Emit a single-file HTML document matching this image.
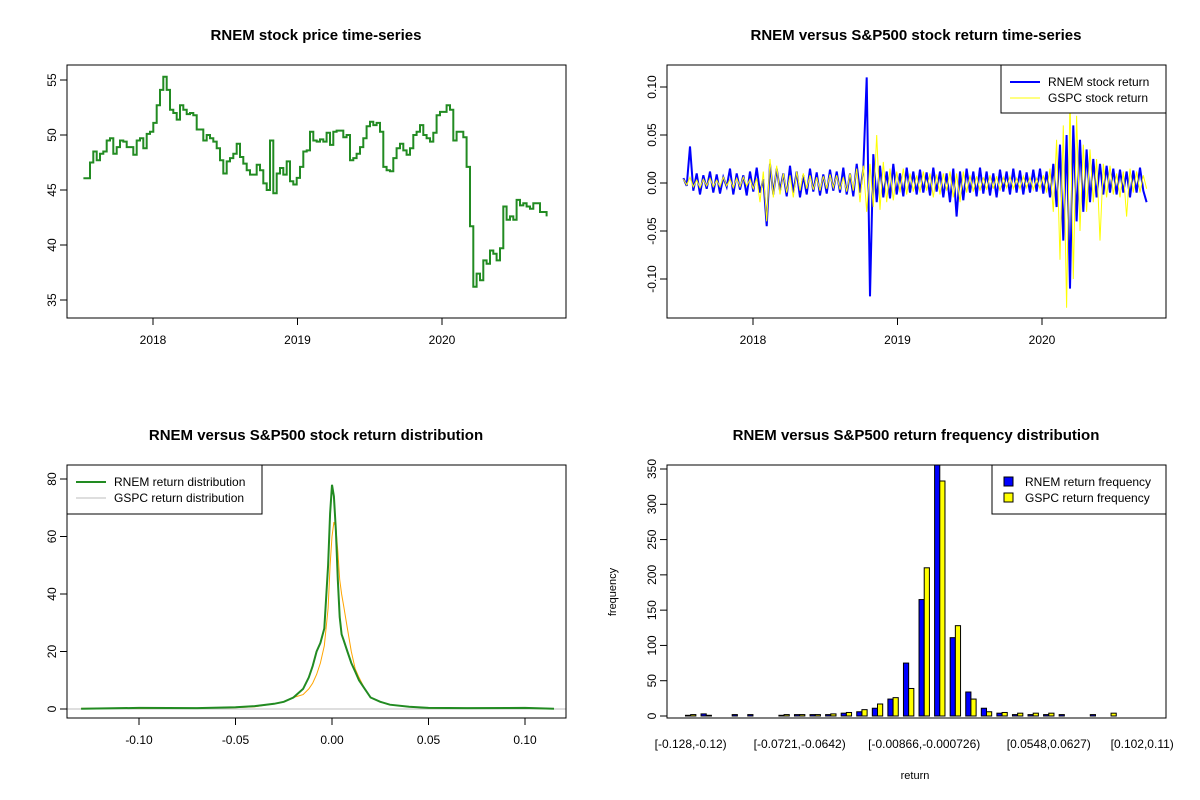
<!DOCTYPE html>
<html><head><meta charset="utf-8"><style>
html,body{margin:0;padding:0;background:#fff}
svg{display:block;font-family:"Liberation Sans",Arial,sans-serif}
</style></head><body>
<svg id="c" width="1200" height="800" viewBox="0 0 1200 800" xmlns="http://www.w3.org/2000/svg"></svg>
<script>
// ---- Panel 1 data: price series (evenly spaced trading samples) ----
const priceStart = 2017.518, priceEnd = 2020.724;
const prices = [46.06,46.06,47.5,48.5,47.7,48.3,48.5,49.5,49.7,48.3,48.9,49.5,49.4,48.9,48.9,48.2,49.5,49.7,48.8,50.1,50.3,51.1,52.7,54.1,55.3,54.1,52.3,52.0,51.4,52.7,52.3,51.9,52.0,51.8,50.5,50.5,49.5,50.0,49.7,49.4,48.8,47.7,46.5,47.6,47.9,48.3,49.2,48.0,47.4,46.8,46.4,46.4,47.3,46.8,45.6,45.0,49.5,44.7,46.5,47.0,46.4,47.6,45.8,45.5,46.1,47.1,48.5,48.6,50.3,49.5,49.4,49.6,49.4,50.2,49.1,50.3,50.4,50.4,49.8,50.0,47.7,47.9,48.3,48.9,49.7,50.8,51.2,50.9,51.1,50.3,47.1,46.8,46.7,47.9,48.8,49.2,48.6,48.2,48.8,50.0,50.3,50.9,50.0,49.7,49.4,50.2,51.8,52.1,52.1,52.7,52.3,49.5,50.3,50.3,49.8,47.1,41.7,36.2,37.4,36.8,38.6,38.3,39.5,39.2,38.6,39.7,43.5,42.3,42.6,42.3,44.1,43.6,43.8,43.5,43.3,43.8,43.8,43.0,43.0,42.6];
const priceYTicks = [35,40,45,50,55];
const yearTicks = [2018,2019,2020];
// ---- Panel 2 data: returns ----
const rnemReturns = [0.005,-0.003,0.038,-0.008,0.01,-0.012,0.008,-0.006,0.012,-0.01,0.009,-0.011,0.006,-0.004,0.015,-0.012,0.01,-0.007,0.008,-0.013,0.012,-0.009,0.016,-0.01,0.004,-0.045,0.02,-0.012,0.015,-0.008,0.01,-0.014,0.018,-0.01,0.012,-0.015,0.008,-0.012,0.015,-0.009,0.011,-0.013,0.009,-0.011,0.014,-0.008,0.012,-0.01,0.016,-0.012,0.01,-0.014,0.02,-0.01,0.015,0.11,-0.118,0.03,-0.02,0.018,-0.015,0.012,-0.016,0.02,-0.012,0.01,-0.014,0.016,-0.01,0.012,-0.012,0.014,-0.01,0.011,-0.013,0.016,-0.009,0.012,-0.015,0.01,-0.02,0.015,-0.035,0.012,-0.018,0.015,-0.01,0.012,-0.014,0.016,-0.011,0.012,-0.013,0.01,-0.015,0.014,-0.009,0.012,-0.012,0.015,-0.01,0.013,-0.012,0.011,-0.01,0.014,-0.009,0.015,-0.011,0.012,-0.015,0.02,-0.025,0.04,-0.06,0.05,-0.11,0.06,-0.04,0.045,-0.03,0.035,-0.02,0.025,-0.015,0.02,-0.012,0.018,-0.01,0.015,-0.012,0.014,-0.01,0.012,-0.015,0.013,-0.01,0.016,-0.008,-0.02];
const gspcReturns = [0.004,-0.002,0.006,-0.004,0.003,-0.005,0.004,-0.003,0.005,-0.004,0.003,-0.004,0.006,-0.003,0.004,-0.005,0.005,-0.004,0.006,-0.003,0.004,-0.006,0.005,-0.02,0.012,-0.04,0.025,-0.015,0.018,-0.012,0.01,-0.01,0.008,-0.015,0.012,-0.008,0.01,-0.006,0.008,-0.007,0.006,-0.008,0.007,-0.006,0.009,-0.005,0.008,-0.007,0.006,-0.009,0.01,-0.008,0.015,-0.02,0.018,-0.03,0.02,-0.025,0.05,-0.028,0.022,-0.02,0.015,-0.018,0.012,-0.01,0.015,-0.012,0.01,-0.009,0.008,-0.01,0.012,-0.008,0.01,-0.015,0.009,-0.012,0.01,-0.008,0.012,-0.015,0.01,-0.02,0.012,-0.01,0.008,-0.009,0.007,-0.008,0.006,-0.007,0.008,-0.006,0.007,-0.008,0.006,-0.005,0.007,-0.006,0.005,-0.006,0.007,-0.005,0.006,-0.007,0.005,-0.006,0.008,-0.01,0.015,-0.03,0.045,-0.08,0.06,-0.13,0.09,-0.1,0.07,-0.05,0.04,-0.03,0.035,-0.02,0.025,-0.06,0.02,-0.015,0.018,-0.012,0.01,-0.015,0.012,-0.035,0.015,-0.01,0.012,-0.01,0.008,-0.006];
const returnYTicks = [-0.10,-0.05,0.00,0.05,0.10];
// ---- Panel 3 data: densities ----
const densGrid = [-0.13,-0.1,-0.07,-0.05,-0.04,-0.03,-0.025,-0.02,-0.015,-0.012,-0.01,-0.008,-0.006,-0.004,-0.002,-0.001,0,0.001,0.002,0.003,0.004,0.005,0.006,0.008,0.01,0.012,0.014,0.017,0.02,0.025,0.03,0.04,0.05,0.07,0.1,0.115];
const rnemDensity = [0.1,0.4,0.3,0.6,1,1.8,2.5,4,7,11,15,20,23,28,50,68,78,74,62,45,32,26,24,20,16,13,10,7,4,2.5,1.5,0.8,0.4,0.3,0.4,0.1];
const gspcDensity = [0.2,0.2,0.3,0.5,0.8,1.8,2.5,4,5,7,9,12,16,22,35,50,60,65,63,55,45,40,36,28,20,14,11,7,4,2.5,1.5,0.7,0.3,0.2,0.2,0.1];
const densXTicks = [-0.10,-0.05,0.00,0.05,0.10];
const densYTicks = [0,20,40,60,80];
// ---- Panel 4 data: histogram ----
const binLabels = ["[-0.128,-0.12)","[-0.12,-0.112)","[-0.112,-0.104)","[-0.104,-0.0962)","[-0.0962,-0.0883)","[-0.0883,-0.0803)","[-0.0803,-0.0721)","[-0.0721,-0.0642)","[-0.0642,-0.0565)","[-0.0565,-0.0485)","[-0.0485,-0.0406)","[-0.0406,-0.0326)","[-0.0326,-0.0247)","[-0.0247,-0.0167)","[-0.0167,-0.00866)","[-0.00866,-0.000726)","[-0.000726,0.0072)","[0.0072,0.0151)","[0.0151,0.0231)","[0.0231,0.031)","[0.031,0.039)","[0.039,0.0469)","[0.0469,0.0548)","[0.0548,0.0627)","[0.0627,0.0707)","[0.0707,0.0786)","[0.0786,0.0866)","[0.0866,0.0945)","[0.0945,0.102)","[0.102,0.11)"];
const shownBinLabels = [0,7,15,23,29];
const rnemFreq = [1,3,0,2,2,0,1,2,2,2,4,6,11,24,75,165,360,111,34,11,4,2,2,2,2,0,2,0,0,0];
const gspcFreq = [2,1,0,0,0,0,2,2,2,3,5,9,17,26,39,210,333,128,24,6,5,4,4,4,0,0,0,4,0,0];
const freqYTicks = [0,50,100,150,200,250,300,350];

const svg = document.getElementById('c');
const NS = 'http://www.w3.org/2000/svg';
function mk(tag, attrs, parent, text){
  const e = document.createElementNS(NS, tag);
  for (const k in attrs) e.setAttribute(k, attrs[k]);
  if (text !== undefined) e.textContent = text;
  (parent||svg).appendChild(e);
  return e;
}
function group(name){
  const g = document.createElementNS(NS,'g');
  
  
  svg.appendChild(g);
  return g;
}
function fmt(v,d){ return v.toFixed(d); }
function yAxis(g, ticks, fy, x, dec){
  const l = mk('line',{x1:x,x2:x,y1:fy(ticks[0]),y2:fy(ticks[ticks.length-1]),stroke:'#000'},g);
  
  
  ticks.forEach(t=>{
    const y=fy(t);
    mk('line',{x1:x-7,x2:x,y1:y,y2:y,stroke:'#000'},g);
    const tx = mk('text',{x:x-11,y:y,'font-size':12,'text-anchor':'middle',transform:`rotate(-90 ${x-11} ${y})`},g, fmt(t,dec));
    
    
  });
}
function xAxis(g, ticks, fx, y, labels){
  const l = mk('line',{x1:fx(ticks[0]),x2:fx(ticks[ticks.length-1]),y1:y,y2:y,stroke:'#000'},g);
  
  
  ticks.forEach((t,i)=>{
    const x=fx(t);
    mk('line',{x1:x,x2:x,y1:y,y2:y+7,stroke:'#000'},g);
    const tx = mk('text',{x:x,y:y+26,'font-size':12,'text-anchor':'middle'},g, labels[i]);
    
    
  });
}
function box(g,x0,y0,x1,y1){
  const r = mk('rect',{x:x0,y:y0,width:x1-x0,height:y1-y0,fill:'none',stroke:'#000'},g);
  
  
}
function title(g,x,y,t){
  const e = mk('text',{x:x,y:y,'font-size':15,'font-weight':'bold','text-anchor':'middle'},g,t);
  
  
}
function poly(g, xs, ys, color, w, name, step){
  let pts;
  if (step){
    const a=[];
    xs.forEach((x,i)=>{ if(i>0) a.push(x.toFixed(1)+','+ys[i-1].toFixed(1)); a.push(x.toFixed(1)+','+ys[i].toFixed(1)); });
    pts = a.join(' ');
  } else pts = xs.map((x,i)=>x.toFixed(1)+','+ys[i].toFixed(1)).join(' ');
  const p = mk('polyline',{points:pts,fill:'none',stroke:color,'stroke-width':w,'stroke-linejoin':'miter'},g);
  
  
  return p;
}

// ===== Panel 1 =====
(function(){
  const g = group('price-panel');
  const fx = d => 153 + (d-2018)*144.5;
  const fy = p => 80 + (55-p)*11;
  title(g,316,40,'RNEM stock price time-series');
  const n = prices.length;
  const xs = prices.map((p,i)=>fx(priceStart + (priceEnd-priceStart)*i/(n-1)));
  const ys = prices.map(fy);
  poly(g,xs,ys,'#228B22',2,'price-line',true);
  box(g,67,65,566,318);
  yAxis(g,priceYTicks,fy,67,0);
  xAxis(g,yearTicks,fx,318,yearTicks.map(String));
})();

// ===== Panel 2 =====
(function(){
  const g = group('returns-panel');
  const fx = d => 753 + (d-2018)*144.5;
  const fy = r => 183 - r*960;
  title(g,916,40,'RNEM versus S&P500 stock return time-series');
  const n = rnemReturns.length;
  const xs = rnemReturns.map((r,i)=>fx(priceStart + (priceEnd-priceStart)*i/(n-1)));
  poly(g,xs,rnemReturns.map(fy),'#0000FF',2,'rnem-return-line',false);
  const xs2 = gspcReturns.map((r,i)=>fx(priceStart + (priceEnd-priceStart)*i/(gspcReturns.length-1)));
  poly(g,xs2,gspcReturns.map(fy),'#FFFF00',1,'gspc-return-line',false);
  box(g,667,65,1166,318);
  yAxis(g,returnYTicks,fy,667,2);
  xAxis(g,yearTicks,fx,318,yearTicks.map(String));
  const lg = mk('g',{},g);
  
  
  mk('rect',{x:1001,y:65,width:165,height:48,fill:'#fff',stroke:'#000'},lg);
  mk('line',{x1:1010,x2:1040,y1:82,y2:82,stroke:'#0000FF','stroke-width':2},lg);
  mk('text',{x:1048,y:86,'font-size':12},lg,'RNEM stock return');
  mk('line',{x1:1010,x2:1040,y1:98,y2:98,stroke:'#FFFF00','stroke-width':1},lg);
  mk('text',{x:1048,y:102,'font-size':12},lg,'GSPC stock return');
})();

// ===== Panel 3 =====
(function(){
  const g = group('density-panel');
  const fx = r => 332 + r*1930;
  const fy = d => 709 - d*2.875;
  title(g,316,440,'RNEM versus S&P500 stock return distribution');
  const z = mk('line',{x1:67,x2:566,y1:fy(0),y2:fy(0),stroke:'#bebebe'},g);
  
  
  poly(g,densGrid.map(fx),gspcDensity.map(fy),'#FFA500',1,'gspc-density-line');
  poly(g,densGrid.map(fx),rnemDensity.map(fy),'#228B22',2,'rnem-density-line');
  box(g,67,465,566,718);
  yAxis(g,densYTicks,fy,67,0);
  xAxis(g,densXTicks,fx,718,densXTicks.map(v=>fmt(v,2)));
  const lg = mk('g',{},g);
  
  
  mk('rect',{x:67,y:465,width:195,height:49,fill:'#fff',stroke:'#000'},lg);
  mk('line',{x1:76,x2:106,y1:482,y2:482,stroke:'#228B22','stroke-width':2},lg);
  mk('text',{x:114,y:486,'font-size':12},lg,'RNEM return distribution');
  mk('line',{x1:76,x2:106,y1:498,y2:498,stroke:'#bebebe','stroke-width':1},lg);
  mk('text',{x:114,y:502,'font-size':12},lg,'GSPC return distribution');
})();

// ===== Panel 4 =====
(function(){
  const g = group('histogram-panel');
  const fu = u => 667 + (u+2.56)*5.19;
  const fy = f => Math.max(465, 716 - f*0.7057);
  title(g,916,440,'RNEM versus S&P500 return frequency distribution');
  rnemFreq.forEach((f,i)=>{
    const x0 = fu(1+3*i), x1 = fu(2+3*i);
    const r = mk('rect',{x:x0,y:fy(f),width:x1-x0,height:716-fy(f),fill:'#0000FF',stroke:'#000','stroke-width':1},g);
    
    
  });
  gspcFreq.forEach((f,i)=>{
    const x0 = fu(2+3*i), x1 = fu(3+3*i);
    const r = mk('rect',{x:x0,y:fy(f),width:x1-x0,height:716-fy(f),fill:'#FFFF00',stroke:'#000','stroke-width':1},g);
    
    
  });
  box(g,667,465,1166,718);
  const fyt = f => 716 - f*0.7057;
  yAxis(g,freqYTicks,fyt,667,0);
  shownBinLabels.forEach(i=>{
    const t = mk('text',{x:fu(2+3*i),y:748,'font-size':12,'text-anchor':'middle'},g,binLabels[i]);
    
    
  });
  const yl = mk('text',{x:616,y:592,'font-size':11,'text-anchor':'middle',transform:'rotate(-90 616 592)'},g,'frequency');
  
  
  const xl = mk('text',{x:915,y:779,'font-size':11,'text-anchor':'middle'},g,'return');
  
  
  const lg = mk('g',{},g);
  
  
  mk('rect',{x:992,y:465,width:174,height:49,fill:'#fff',stroke:'#000'},lg);
  mk('rect',{x:1004,y:477,width:9,height:9,fill:'#0000FF',stroke:'#000'},lg);
  mk('text',{x:1025,y:486,'font-size':12},lg,'RNEM return frequency');
  mk('rect',{x:1004,y:493,width:9,height:9,fill:'#FFFF00',stroke:'#000'},lg);
  mk('text',{x:1025,y:502,'font-size':12},lg,'GSPC return frequency');
})();
</script>
</body></html>
